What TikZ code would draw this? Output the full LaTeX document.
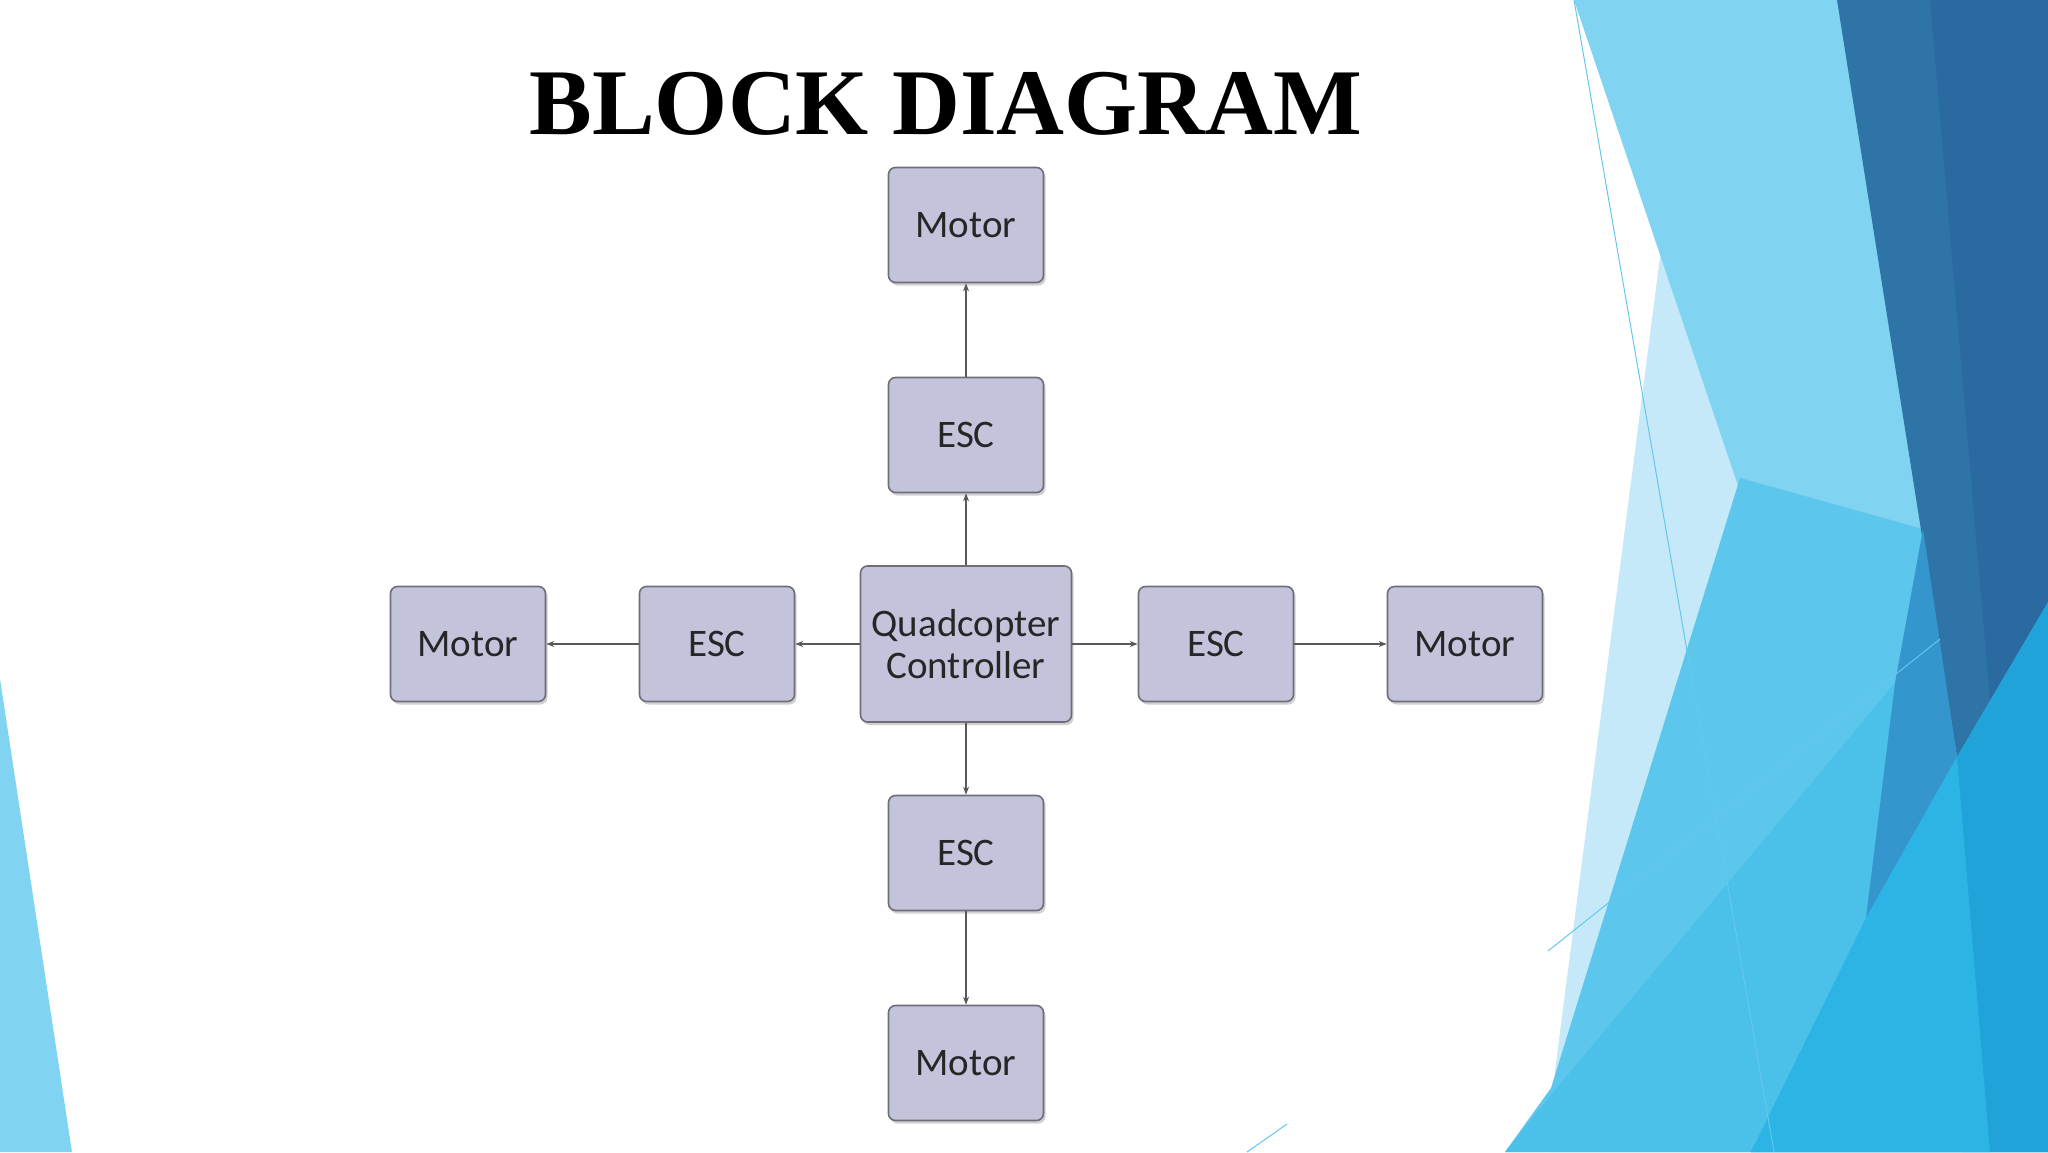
\documentclass[tikz,border=0pt]{standalone}
\usepackage{fontspec}
\setmainfont{Liberation Serif}
\newfontfamily\boxfont{Carlito}
\usetikzlibrary{shadows,arrows.meta}
\definecolor{boxfill}{HTML}{C3C3DB}
\definecolor{boxline}{HTML}{6E6E7A}
\begin{document}
\begin{tikzpicture}[x=1pt,y=-1pt,
  blk/.style={draw=boxline,line width=1.6pt,fill=boxfill,rounded corners=7pt,minimum width=155pt,minimum height=115pt,font=\boxfont\fontsize{39}{46}\selectfont,text=black!85,align=center,
    drop shadow={shadow xshift=2pt,shadow yshift=-3pt,fill=black,opacity=0.18}},
  conn/.style={draw=black!65,line width=1.3pt,-{Stealth[length=8pt,width=6pt]}}]
\useasboundingbox (0,0) rectangle (2048,1152);
\fill[white] (0,0) rectangle (2048,1152);
% background decoration
\fill[color={rgb,255:red,197;green,233;blue,248}] (1660,257) -- (2048,257) -- (2048,1152) -- (1551,1152) -- (1551,1102) -- cycle;
\fill[color={rgb,255:red,128;green,211;blue,241}] (1574,0) -- (2048,0) -- (2048,1152) -- (1963,1152) -- cycle;
\fill[color={rgb,255:red,93;green,198;blue,236}] (1740,478) -- (1923,529) -- (2048,1152) -- (1505,1152) -- (1551,1088) -- cycle;
\fill[color={rgb,255:red,75;green,192;blue,232}] (1551,1095) -- (1895,683) -- (2048,1152) -- (1505,1152) -- cycle;
\fill[color={rgb,255:red,46;green,116;blue,166}] (1837,0) -- (2048,0) -- (2048,602) -- (1957,757) -- cycle;
\fill[color={rgb,255:red,42;green,106;blue,160}] (1998,0) -- (2048,0) -- (2048,602) -- (1990,700) -- (1930,0) -- cycle;
\fill[color={rgb,255:red,52;green,150;blue,205}] (1923,529) -- (1957,757) -- (1866,918) -- (1895,683) -- cycle;
\fill[color={rgb,255:red,31;green,163;blue,217}] (2048,602) -- (2048,1152) -- (1751,1152) -- (1957,757) -- cycle;
\fill[color={rgb,255:red,43;green,180;blue,228}] (1866,918) -- (1957,757) -- (1990,1152) -- (1751,1152) -- cycle;
\draw[color={rgb,255:red,100;green,200;blue,236},line width=1pt] (1574,0) -- (1774,1152);
\draw[color={rgb,255:red,100;green,200;blue,236},line width=1pt] (1548,951) -- (1940,639);
\draw[color={rgb,255:red,100;green,200;blue,236},line width=1pt] (1287,1124) -- (1247,1152);
\fill[color={rgb,255:red,128;green,211;blue,241}] (0,679) -- (72,1152) -- (0,1152) -- cycle;
% title
\node[font=\bfseries\fontsize{94}{104}\selectfont] (title) at (946,104) {BLOCK DIAGRAM};
% blocks
\node[blk,minimum width=211pt,minimum height=156pt] (ctrl) at (966,644) {Quadcopter\\[-4pt]Controller};
\node[blk] (escT) at (966,435) {ESC};
\node[blk] (motT) at (966,225) {Motor};
\node[blk] (escB) at (966,853) {ESC};
\node[blk] (motB) at (966,1063) {Motor};
\node[blk] (escL) at (717,644) {ESC};
\node[blk] (motL) at (468,644) {Motor};
\node[blk] (escR) at (1216,644) {ESC};
\node[blk] (motR) at (1465,644) {Motor};
% connectors
\draw[conn] (ctrl) -- (escT);
\draw[conn] (escT) -- (motT);
\draw[conn] (ctrl) -- (escB);
\draw[conn] (escB) -- (motB);
\draw[conn] (ctrl) -- (escL);
\draw[conn] (escL) -- (motL);
\draw[conn] (ctrl) -- (escR);
\draw[conn] (escR) -- (motR);
\end{tikzpicture}
\end{document}
